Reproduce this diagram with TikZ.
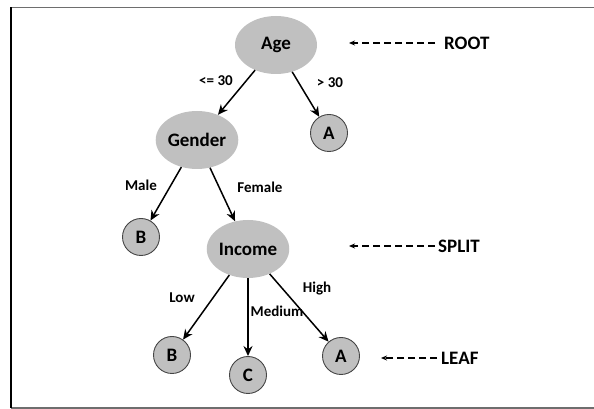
\documentclass[tikz,border=0pt]{standalone}
\usepackage{fontspec}
\setmainfont{Carlito}
\usetikzlibrary{arrows.meta,shapes.geometric}
\definecolor{nodegray}{HTML}{C0C0C0}
\definecolor{ringgray}{HTML}{454545}
\definecolor{framegray}{HTML}{6E6E6E}
\begin{document}
\begin{tikzpicture}[x=1pt,y=1pt,
  split/.style={ellipse, fill=nodegray, draw=none, minimum width=82pt, minimum height=58pt, inner sep=0pt, font=\bfseries\fontsize{19}{19}\selectfont},
  leaf/.style={circle, fill=nodegray, draw=ringgray, line width=0.9pt, minimum size=37pt, inner sep=0pt, font=\bfseries\fontsize{19}{19}\selectfont},
  edge/.style={-{Stealth[length=10pt,width=9pt]}, line width=1.5pt, black},
  elabel/.style={font=\bfseries\fontsize{15}{15}\selectfont, inner sep=0pt},
  tag/.style={font=\bfseries\fontsize{19}{19}\selectfont, inner sep=0pt, anchor=west},
  pointer/.style={-{Stealth[length=6pt,width=5pt]}, dashed, dash pattern=on 7pt off 4pt, line width=1.1pt, black}
]
\useasboundingbox (0,0) rectangle (594,409);
% frame
\draw[framegray, line width=1.2pt] (11,401.5) -- (594,401.5);
\draw[framegray, line width=1.2pt] (11,1) -- (594,1);
\draw[black, line width=1.2pt] (11,1) -- (11,401.5);

% tree nodes
\node[split] (age) at (276,364) {Age};
\node[split] (gender) at (197,269) {Gender};
\node[split] (income) at (248,160) {Income};
\node[leaf] (a1) at (329,276) {A};
\node[leaf] (b1) at (141,172) {B};
\node[leaf] (b2) at (172,54) {B};
\node[leaf] (c) at (248,34) {C};
\node[leaf] (a2) at (341,53) {A};

% branches
\draw[edge] (age) -- (gender);
\draw[edge] (age) -- (a1);
\draw[edge] (gender) -- (b1);
\draw[edge] (gender) -- (income);
\draw[edge] (income) -- (b2);
\draw[edge] (income.south) -- (c);
\draw[edge] (income) -- (a2);

% branch labels
\node[elabel] (l1) at (216,328) {<= 30};
\node[elabel] (l2) at (330,326) {> 30};
\node[elabel] (l3) at (141,224) {Male};
\node[elabel] (l4) at (260,222) {Female};
\node[elabel] (l5) at (182,111) {Low};
\node[elabel] (l6) at (277,98) {Medium};
\node[elabel] (l7) at (317,120) {High};

% level tags
\node[tag] (root) at (444,366) {ROOT};
\node[tag] (spl) at (438,163) {SPLIT};
\node[tag] (lf) at (441,51) {LEAF};
\coordinate (rp) at (349,366);
\coordinate (sp) at (349,163);
\coordinate (lp) at (381,51);
\draw[pointer] ([xshift=-9pt]root.west) -- (rp);
\draw[pointer] ([xshift=-3pt]spl.west) -- (sp);
\draw[pointer] ([xshift=-4pt]lf.west) -- (lp);
\end{tikzpicture}
\end{document}
